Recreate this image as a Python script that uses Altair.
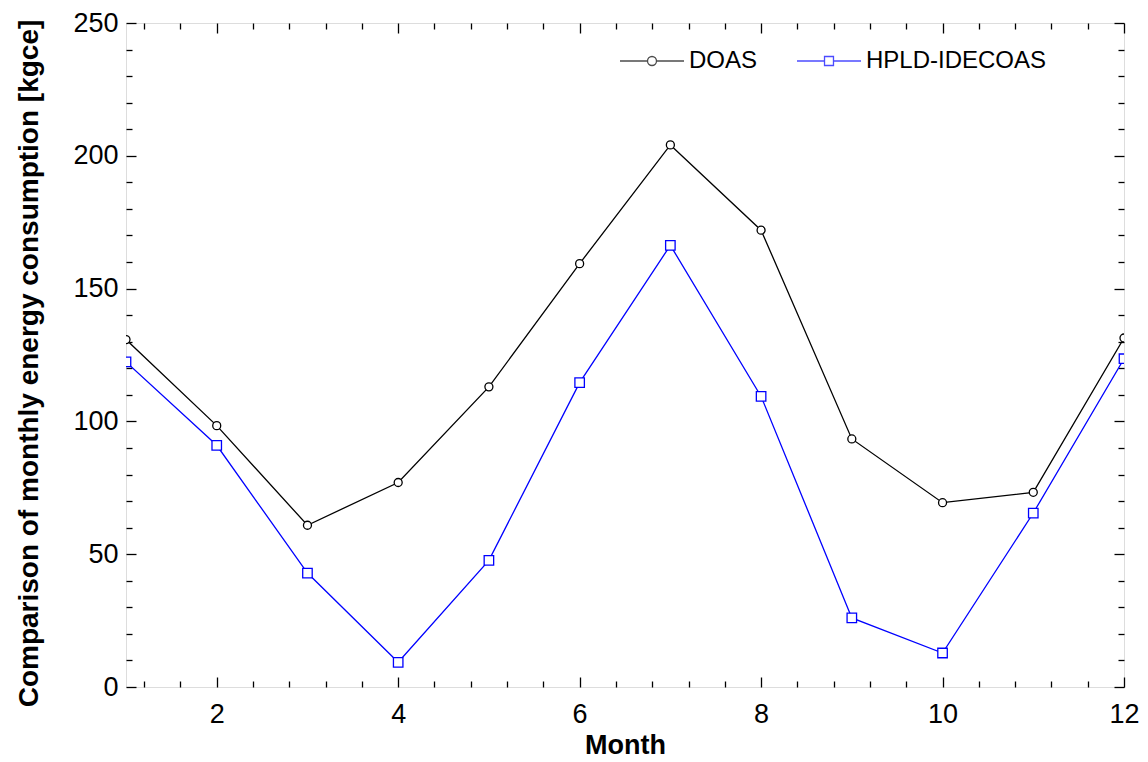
import altair as alt
import pandas as pd

months = [1, 2, 3, 4, 5, 6, 7, 8, 9, 10, 11, 12]
doas = [130.8, 98.4, 60.9, 77.0, 113.0, 159.4, 204.1, 172.0, 93.4, 69.4, 73.3, 131.4]
hpld = [122.4, 91.0, 42.9, 9.3, 47.7, 114.6, 166.3, 109.4, 26.0, 12.8, 65.5, 123.6]
series_names = ["DOAS", "HPLD-IDECOAS"]
series_colors = ["#000000", "#0000ff"]

x_major = [2, 4, 6, 8, 10, 12]
x_minor = [1.2, 1.6, 2.4, 2.8, 3.2, 3.6, 4.4, 4.8, 5.2, 5.6, 6.4, 6.8, 7.2, 7.6,
           8.4, 8.8, 9.2, 9.6, 10.4, 10.8, 11.2, 11.6]
y_major = [0, 50, 100, 150, 200, 250]
y_minor = [10, 20, 30, 40, 60, 70, 80, 90, 110, 120, 130, 140, 160, 170, 180, 190,
           210, 220, 230, 240]

df = pd.DataFrame({
    "month": months * 2,
    "value": doas + hpld,
    "series": [series_names[0]] * len(months) + [series_names[1]] * len(months),
})

FONT = "Liberation Sans"
xscale = alt.Scale(domain=[1, 12], nice=False, zero=False)
yscale = alt.Scale(domain=[0, 250], nice=False, zero=False)

main_x = alt.Axis(orient="bottom", values=x_major, ticks=False, tickSize=0, domain=False,
                  grid=False, labelFontSize=27, labelFont=FONT, labelColor="black",
                  labelPadding=14, labelFlush=False, title="Month", titleFontSize=27,
                  titleFont=FONT, titleFontWeight="bold", titleColor="black",
                  titleBaseline="middle", titleY=58)
main_y = alt.Axis(orient="left", values=y_major, ticks=False, tickSize=0, domain=False,
                  grid=False, labelFontSize=27, labelFont=FONT, labelColor="black",
                  labelPadding=8, labelFlush=False,
                  title="Comparison of monthly energy consumption [kgce]",
                  titleFontSize=28, titleFont=FONT, titleFontWeight="bold",
                  titleColor="black", titleBaseline="middle", titleAngle=-90,
                  titleX=-97, titleY=340, titleLimit=0)


def tick_axis(orient, vals, size):
    return alt.Axis(orient=orient, values=vals, ticks=True, tickSize=size, tickColor="black",
                    tickWidth=1.3, offset=-size, labels=False, domain=False, grid=False,
                    title=None)


lines_doas = alt.Chart(df).transform_filter(alt.datum.series == series_names[0]).mark_line(
    color=series_colors[0], strokeWidth=1.3, clip=True
).encode(
    x=alt.X("month:Q", scale=xscale, axis=main_x),
    y=alt.Y("value:Q", scale=yscale, axis=main_y),
)
lines_hpld = alt.Chart(df).transform_filter(alt.datum.series == series_names[1]).mark_line(
    color=series_colors[1], strokeWidth=1.3, clip=True
).encode(
    x=alt.X("month:Q", scale=xscale, axis=None),
    y=alt.Y("value:Q", scale=yscale, axis=None),
)
pts_doas = alt.Chart(df).transform_filter(alt.datum.series == series_names[0]).mark_point(
    shape="circle", size=64, filled=True, fill="white", stroke=series_colors[0],
    strokeWidth=1.3, opacity=1, clip=True
).encode(
    x=alt.X("month:Q", scale=xscale, axis=None),
    y=alt.Y("value:Q", scale=yscale, axis=None),
)
pts_hpld = alt.Chart(df).transform_filter(alt.datum.series == series_names[1]).mark_point(
    shape="square", size=90, filled=True, fill="white", stroke=series_colors[1],
    strokeWidth=1.3, opacity=1, clip=True
).encode(
    x=alt.X("month:Q", scale=xscale, axis=None),
    y=alt.Y("value:Q", scale=yscale, axis=None),
)

circle_sym = ("M-1,0L-0.14,0M0.14,0L1,0M-0.14,0A0.14,0.14,0,1,0,0.14,0"
              "A0.14,0.14,0,1,0,-0.14,0Z")
square_sym = "M-1,0L-0.14,0M0.14,0L1,0M-0.14,-0.14L0.14,-0.14L0.14,0.14L-0.14,0.14Z"

leg = alt.Legend(title=None, orient="none", legendX=493, legendY=5,
                 direction="horizontal", symbolSize=4096, symbolStrokeWidth=1.3,
                 labelFontSize=24, labelFont=FONT, labelColor="black", labelOffset=4,
                 labelLimit=0, columnPadding=36, padding=0, symbolFillColor="white")

legend_layer = alt.Chart(df).transform_filter("false").mark_point(
    filled=False, strokeWidth=1.3
).encode(
    x=alt.X("month:Q", scale=xscale, axis=None),
    y=alt.Y("value:Q", scale=yscale, axis=None),
    color=alt.Color("series:N", scale=alt.Scale(domain=series_names, range=series_colors),
                    legend=leg),
    shape=alt.Shape("series:N", scale=alt.Scale(domain=series_names,
                                                range=[circle_sym, square_sym]),
                    legend=leg),
)


def tick_layer(xo, xv, xs, yo, yv, ys):
    return alt.Chart(df).mark_point(opacity=0).encode(
        x=alt.X("month:Q", scale=xscale, axis=tick_axis(xo, xv, xs)),
        y=alt.Y("value:Q", scale=yscale, axis=tick_axis(yo, yv, ys)),
    )


ticks1 = tick_layer("bottom", x_major, 10, "left", y_major, 10)
ticks2 = tick_layer("bottom", x_minor, 6, "left", y_minor, 6)
ticks3 = tick_layer("top", x_major, 10, "right", y_major, 10)
ticks4 = tick_layer("top", x_minor, 6, "right", y_minor, 6)

chart = alt.layer(
    ticks1, ticks2, ticks3, ticks4, lines_doas, lines_hpld, pts_doas, pts_hpld, legend_layer
).resolve_axis(
    x="independent", y="independent"
).properties(
    width=998, height=664,
    autosize=alt.AutoSizeParams(type="none"),
    padding={"left": 118, "top": 15, "right": 16, "bottom": 76},
).configure_view(
    stroke="black", strokeWidth=2
).configure(background="white")

chart.save("out.html", embed_options={"renderer": "svg", "actions": False})
